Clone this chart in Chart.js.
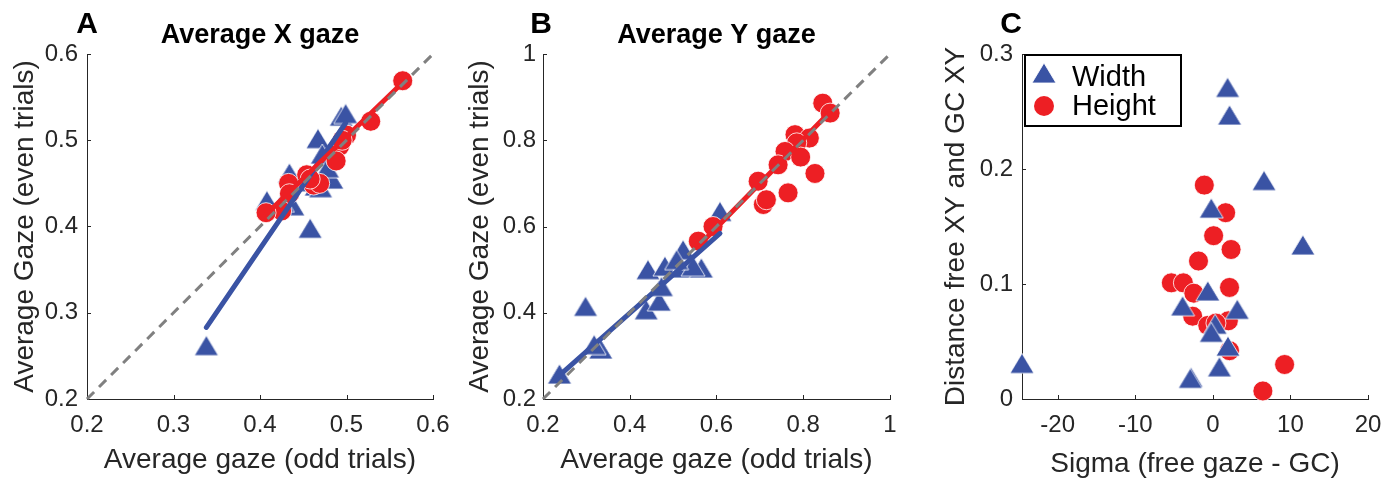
<!DOCTYPE html>
<html>
<head>
<meta charset="utf-8">
<script src="https://cdn.jsdelivr.net/npm/chart.js@4.4.1/dist/chart.umd.min.js"></script>
<style>
  body { margin: 0; background: #fff; }
  #wrap { position: relative; width: 1395px; height: 482px; }
  #wrap canvas { position: absolute; top: 0; }
</style>
</head>
<body>
<div id="wrap">
  <canvas id="panelA" width="465" height="482" style="left:0px"></canvas>
  <canvas id="panelB" width="465" height="482" style="left:465px"></canvas>
  <canvas id="panelC" width="465" height="482" style="left:930px"></canvas>
</div>
<script>
// panel A - average X gaze (odd vs even trials)
var aWidthX = [0.338, 0.458, 0.494, 0.499, 0.467, 0.472, 0.434, 0.408, 0.438, 0.465, 0.470, 0.483, 0.478, 0.426, 0.455];
var aWidthY = [0.262, 0.398, 0.528, 0.531, 0.502, 0.484, 0.462, 0.430, 0.424, 0.447, 0.445, 0.455, 0.468, 0.428, 0.452];
var aHeightX = [0.565, 0.528, 0.500, 0.492, 0.488, 0.454, 0.462, 0.469, 0.433, 0.434, 0.425, 0.407, 0.458, 0.495];
var aHeightY = [0.569, 0.522, 0.506, 0.493, 0.476, 0.460, 0.448, 0.450, 0.450, 0.438, 0.418, 0.416, 0.455, 0.500];
var aFitWidth = [[0.338, 0.283], [0.499, 0.520]];
var aFitHeight = [[0.407, 0.414], [0.565, 0.567]];

// panel B - average Y gaze
var bWidthX = [0.238, 0.298, 0.333, 0.318, 0.438, 0.468, 0.473, 0.442, 0.481, 0.519, 0.523, 0.565, 0.546, 0.608, 0.508];
var bWidthY = [0.258, 0.415, 0.316, 0.326, 0.407, 0.427, 0.461, 0.500, 0.508, 0.504, 0.546, 0.504, 0.508, 0.635, 0.523];
var bHeightX = [0.845, 0.862, 0.781, 0.814, 0.785, 0.758, 0.794, 0.742, 0.827, 0.696, 0.765, 0.708, 0.715, 0.592, 0.558];
var bHeightY = [0.886, 0.863, 0.813, 0.805, 0.794, 0.774, 0.761, 0.743, 0.723, 0.705, 0.678, 0.651, 0.662, 0.600, 0.566];
var bFitWidth = [[0.238, 0.255], [0.608, 0.584]];
var bFitHeight = [[0.558, 0.554], [0.862, 0.866]];

// panel C - sigma difference vs distance
var cWidthX = [-24.6, 1.9, 2.15, 6.6, 11.6, -0.2, -0.65, -3.9, 3.15, 0.3, -0.2, 1.95, 0.85, -2.8, -2.9];
var cWidthY = [0.031, 0.271, 0.247, 0.190, 0.134, 0.166, 0.094, 0.081, 0.078, 0.065, 0.058, 0.046, 0.028, 0.019, 0.018];
var cHeightX = [-1.1, 1.65, 0.1, 2.35, -1.85, -5.35, -3.8, -2.45, 2.15, -2.6, -0.65, 2.0, 2.15, 9.25, 6.45, 0.4];
var cHeightY = [0.186, 0.162, 0.142, 0.130, 0.120, 0.101, 0.101, 0.092, 0.097, 0.072, 0.064, 0.068, 0.042, 0.030, 0.007, 0.066];
var cXTicks = [-20, -10, 0, 10, 20];

var seriesNames = ['Width', 'Height'];

var BLUE = '#3a53a4';
var RED = '#ed1f24';
var AXIS = '#262626';
var FONT = '"Liberation Sans", Arial, Helvetica, sans-serif';

// triangle marker like matlab '^', centred on its box
function makeTriangle(w, h) {
  var c = document.createElement('canvas');
  c.width = w + 2; c.height = h + 2;
  var g = c.getContext('2d');
  g.beginPath();
  g.moveTo(1, h + 1);
  g.lineTo(w + 1, h + 1);
  g.lineTo(w / 2 + 1, 1);
  g.closePath();
  g.fillStyle = BLUE;
  g.fill();
  g.strokeStyle = '#fff';
  g.lineWidth = 0.8;
  g.stroke();
  return c;
}
var triImg = makeTriangle(24, 20);

function pts(xs, ys) {
  return xs.map(function (x, i) { return { x: x, y: ys[i] }; });
}
function seg(p) {
  return p.map(function (q) { return { x: q[0], y: q[1] }; });
}
function fmt(v) {
  return String(Number(v.toFixed(2)));
}

// inward tick marks, matlab style
var inTicks = {
  id: 'inTicks',
  beforeDatasetsDraw: function (chart) {
    var ctx = chart.ctx, a = chart.chartArea;
    var sx = chart.scales.x, sy = chart.scales.y;
    ctx.save();
    ctx.strokeStyle = AXIS;
    ctx.lineWidth = 1;
    ctx.beginPath();
    sx.ticks.forEach(function (t) {
      var px = Math.round(sx.getPixelForValue(t.value)) + 0.5;
      ctx.moveTo(px, a.bottom);
      ctx.lineTo(px, a.bottom - 4);
    });
    sy.ticks.forEach(function (t) {
      var py = Math.round(sy.getPixelForValue(t.value)) + 0.5;
      ctx.moveTo(a.left, py);
      ctx.lineTo(a.left + 4, py);
    });
    ctx.stroke();
    ctx.restore();
  }
};

// panel letter + bold title above plot
var panelText = {
  id: 'panelText',
  afterDraw: function (chart, args, opts) {
    var ctx = chart.ctx, a = chart.chartArea;
    ctx.save();
    ctx.fillStyle = '#000';
    ctx.textAlign = 'center';
    ctx.textBaseline = 'alphabetic';
    ctx.font = 'bold 30px ' + FONT;
    ctx.fillText(opts.letter, a.left + opts.letterDx, 33);
    if (opts.title) {
      ctx.font = 'bold 27px ' + FONT;
      ctx.fillText(opts.title, (a.left + a.right) / 2, 43);
    }
    ctx.restore();
  }
};

// boxed legend top-left of panel C
var boxLegend = {
  id: 'boxLegend',
  afterDraw: function (chart, args, opts) {
    if (!opts.show) return;
    var ctx = chart.ctx, a = chart.chartArea;
    var x0 = a.left + 2, y0 = a.top;
    ctx.save();
    ctx.fillStyle = '#fff';
    ctx.fillRect(x0, y0, 158, 73);
    ctx.strokeStyle = '#000';
    ctx.lineWidth = 2;
    ctx.strokeRect(x0 + 1, y0 + 1, 156, 71);
    ctx.drawImage(triImg, x0 + 20 - triImg.width / 2, y0 + 19 - triImg.height / 2);
    ctx.beginPath();
    ctx.arc(x0 + 20, y0 + 52, 10, 0, Math.PI * 2);
    ctx.fillStyle = RED;
    ctx.fill();
    ctx.fillStyle = '#000';
    ctx.font = '29px ' + FONT;
    ctx.textAlign = 'left';
    ctx.fillText(seriesNames[0], x0 + 48, y0 + 32);
    ctx.fillText(seriesNames[1], x0 + 48, y0 + 61);
    ctx.restore();
  }
};

function axis(o) {
  var ax = {
    type: 'linear',
    min: o.min,
    max: o.max,
    bounds: 'data',
    border: { color: AXIS, width: 1 },
    grid: { display: true, drawOnChartArea: false, drawTicks: false },
    ticks: {
      stepSize: o.step,
      includeBounds: false,
      autoSkip: false,
      maxRotation: 0,
      padding: o.tickPad,
      color: AXIS,
      font: { family: FONT, size: 24 },
      callback: fmt
    },
    title: {
      display: true,
      text: o.title,
      color: AXIS,
      font: { family: FONT, size: 28, lineHeight: 1 },
      padding: o.titlePad
    },
    afterFit: o.fit
  };
  if (o.tickValues) {
    ax.afterBuildTicks = function (s) {
      s.ticks = o.tickValues.map(function (v) { return { value: v }; });
    };
  }
  return ax;
}

function makePanel(id, p) {
  // in panel C the triangles sit on top of the circles
  var triOrder = p.trianglesOnTop ? 3.5 : 5;
  var datasets = [
    { label: seriesNames[0], data: pts(p.wx, p.wy), pointStyle: triImg, pointRadius: 12, order: triOrder, clip: false },
    { label: seriesNames[1], data: pts(p.hx, p.hy), pointStyle: 'circle', pointRadius: 10,
      backgroundColor: RED, borderColor: '#fff', borderWidth: 0.8, order: 4, clip: false }
  ];
  if (p.fitW) {
    datasets.push({ data: seg(p.fitW), showLine: true, pointRadius: 0, borderColor: BLUE, borderWidth: 5,
      borderCapStyle: 'round', order: 3 });
    datasets.push({ data: seg(p.fitH), showLine: true, pointRadius: 0, borderColor: RED, borderWidth: 5,
      borderCapStyle: 'round', order: 2 });
    datasets.push({ data: seg(p.diag), showLine: true, pointRadius: 0, borderColor: '#808080', borderWidth: 3,
      borderDash: [10, 7], order: 1, clip: false });
  }
  return new Chart(document.getElementById(id), {
    type: 'scatter',
    data: { datasets: datasets },
    options: {
      responsive: false,
      animation: false,
      layout: { padding: { left: 0, right: p.padRight, top: 54, bottom: 0 } },
      plugins: {
        legend: { display: false },
        tooltip: { enabled: false },
        panelText: { letter: p.letter, letterDx: p.letterDx, title: p.title },
        boxLegend: { show: !!p.legend }
      },
      scales: {
        x: axis({ min: p.xmin, max: p.xmax, step: p.xstep, tickValues: p.xTicks, tickPad: 12, title: p.xTitle,
          titlePad: { top: 0, bottom: p.xTitlePad }, fit: function (s) { s.height = 83; } }),
        y: axis({ min: p.ymin, max: p.ymax, step: p.ystep, tickPad: p.yTickPad, title: p.yTitle,
          titlePad: { top: p.yTitlePad, bottom: 0 }, fit: function (s) { s.width = p.yWidth; } })
      }
    },
    plugins: [inTicks, panelText, boxLegend]
  });
}

makePanel('panelA', {
  letter: 'A', letterDx: 0, title: 'Average X gaze',
  wx: aWidthX, wy: aWidthY, hx: aHeightX, hy: aHeightY,
  fitW: aFitWidth, fitH: aFitHeight, diag: [[0.2, 0.2], [0.6, 0.6]],
  xmin: 0.2, xmax: 0.6, xstep: 0.1, ymin: 0.2, ymax: 0.6, ystep: 0.1,
  xTitle: 'Average gaze (odd trials)', yTitle: 'Average Gaze (even trials)',
  yWidth: 87, padRight: 32, yTickPad: 9, yTitlePad: 11, xTitlePad: 8
});

makePanel('panelB', {
  letter: 'B', letterDx: -2, title: 'Average Y gaze',
  wx: bWidthX, wy: bWidthY, hx: bHeightX, hy: bHeightY,
  fitW: bFitWidth, fitH: bFitHeight, diag: [[0.2, 0.2], [1, 1]],
  xmin: 0.2, xmax: 1, xstep: 0.2, ymin: 0.2, ymax: 1, ystep: 0.2,
  xTitle: 'Average gaze (odd trials)', yTitle: 'Average Gaze (even trials)',
  yWidth: 78, padRight: 40, yTickPad: 7, yTitlePad: 1, xTitlePad: 8
});

makePanel('panelC', {
  letter: 'C', letterDx: -11, title: '', trianglesOnTop: true,
  wx: cWidthX, wy: cWidthY, hx: cHeightX, hy: cHeightY, legend: true,
  xmin: -24.6, xmax: 20, xstep: 10, xTicks: cXTicks, ymin: 0, ymax: 0.3, ystep: 0.1,
  xTitle: 'Sigma (free gaze - GC)', yTitle: 'Distance free XY and GC XY',
  yWidth: 92, padRight: 27, yTickPad: 9, yTitlePad: 12, xTitlePad: 4
});
</script>
</body>
</html>
